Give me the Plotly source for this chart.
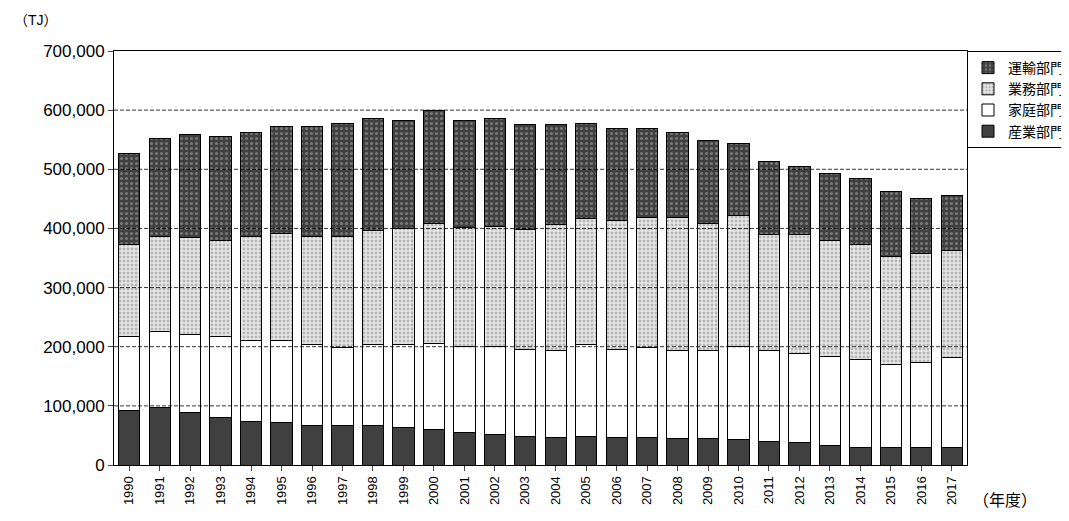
import plotly.graph_objects as go

years = [str(y) for y in range(1990, 2018)]
# cumulative tops (thousand TJ)
top_ind = [92, 97, 88, 80, 74, 72, 66, 66, 66, 63, 60, 55, 52, 49, 47, 49, 46, 47, 44, 44, 43, 40, 38, 33, 30, 30, 29, 30]
top_home = [218, 226, 221, 218, 210, 210, 204, 199, 204, 204, 206, 201, 201, 196, 193, 204, 196, 199, 193, 193, 201, 193, 189, 183, 178, 170, 173, 181]
top_biz = [372, 386, 384, 380, 386, 391, 386, 386, 397, 400, 409, 401, 403, 398, 406, 417, 414, 418, 419, 409, 422, 389, 389, 380, 372, 352, 358, 363]
top_all = [527, 552, 558, 555, 563, 572, 572, 578, 586, 583, 599, 583, 586, 575, 575, 578, 569, 569, 563, 549, 544, 513, 505, 493, 485, 462, 451, 456]
grid_values = [100000, 200000, 300000, 400000, 500000, 600000]

industry = [v * 1000 for v in top_ind]
household = [(b - a) * 1000 for a, b in zip(top_ind, top_home)]
business = [(b - a) * 1000 for a, b in zip(top_home, top_biz)]
transport = [(b - a) * 1000 for a, b in zip(top_biz, top_all)]

line = dict(color="black", width=1)
fig = go.Figure()
fig.add_bar(x=years, y=industry, name="産業部門", legendgroup="a",
            marker=dict(color="#404040", line=line))
fig.add_bar(x=years, y=household, name="家庭部門", legendgroup="b",
            marker=dict(color="white", line=line))
fig.add_bar(x=years, y=business, name="業務部門", legendgroup="c",
            marker=dict(color="white", line=line,
                        pattern=dict(shape=".", fgcolor="#808080", bgcolor="#e8e8e8", size=4, solidity=0.4)))
fig.add_bar(x=years, y=transport, name="運輸部門", legendgroup="d",
            marker=dict(color="#404040", line=line,
                        pattern=dict(shape=".", fgcolor="#b0b0b0", bgcolor="#404040", size=5, solidity=0.3)))

# dashed gridlines drawn over the bars, as in the original
for g in grid_values:
    fig.add_hline(y=g, line=dict(color="black", width=0.8, dash="4px,2px"), layer="above")

fig.update_layout(
    barmode="stack", bargap=0.3,
    width=1069, height=521,
    margin=dict(l=106, r=110, t=43, b=64, autoexpand=False),
    plot_bgcolor="white", paper_bgcolor="white",
    font=dict(family="Liberation Sans, Noto Sans CJK JP", size=15, color="black"),
    legend=dict(x=1.0, y=1, xanchor="left", yanchor="top", traceorder="reversed",
                bordercolor="black", borderwidth=1, tracegroupgap=20,
                itemwidth=30, font=dict(size=14)),
    annotations=[
        dict(text="（TJ）", xref="paper", yref="paper", x=-0.12, y=1.1, showarrow=False,
             xanchor="left", font=dict(size=14)),
        dict(text="（年度）", xref="paper", yref="paper", x=1.005, y=-0.06, showarrow=False,
             xanchor="left", yanchor="top", font=dict(size=16)),
    ],
)
fig.update_xaxes(tickangle=-90, showline=True, linecolor="black", mirror=True,
                 ticks="outside", tickfont=dict(size=13))
fig.update_yaxes(range=[0, 700000], dtick=100000, tickformat=",", showline=True,
                 linecolor="black", mirror=True, showgrid=False,
                 ticks="outside", tickfont=dict(size=17))

fig.write_html("out.html")
